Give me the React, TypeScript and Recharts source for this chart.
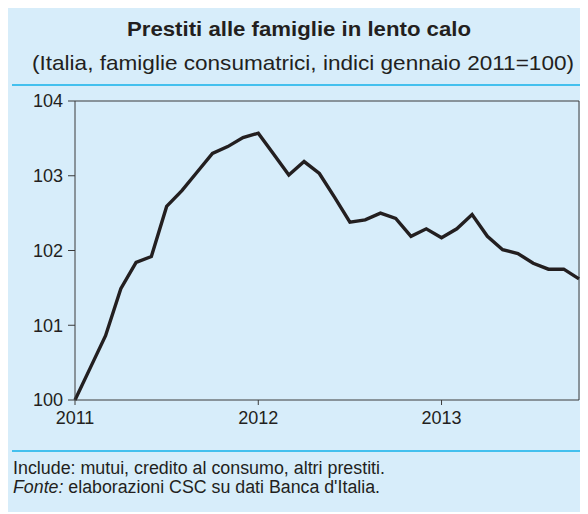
import { LineChart, Line, XAxis, YAxis, ReferenceLine } from 'recharts';

const months = [
  '2011-01', '2011-02', '2011-03', '2011-04', '2011-05', '2011-06',
  '2011-07', '2011-08', '2011-09', '2011-10', '2011-11', '2011-12',
  '2012-01', '2012-02', '2012-03', '2012-04', '2012-05', '2012-06',
  '2012-07', '2012-08', '2012-09', '2012-10', '2012-11', '2012-12',
  '2013-01', '2013-02', '2013-03', '2013-04', '2013-05', '2013-06',
  '2013-07', '2013-08', '2013-09', '2013-10',
];

const prestiti = [
  100.0, 100.43, 100.86, 101.49, 101.84, 101.92,
  102.59, 102.8, 103.05, 103.3, 103.39, 103.51,
  103.57, 103.29, 103.01, 103.19, 103.03, 102.71,
  102.38, 102.41, 102.5, 102.43, 102.19, 102.29,
  102.17, 102.29, 102.48, 102.19, 102.01, 101.96,
  101.83, 101.75, 101.75, 101.62,
];

const yTicks = [100, 101, 102, 103, 104];
const yearLabels = ['2011', '2012', '2013'];

const BG = '#d7edfa';
const CYAN = '#12b0ea';
const INK = '#231f20';
const FONT = "'Liberation Sans', Arial, sans-serif";

const data = months.map((m, i) => ({ i, m, v: prestiti[i] }));
const xTicks = yearLabels.map((y) => months.indexOf(y + '-01'));
const last = months.length - 1;

export default function App() {
  return (
    <div style={{ position: 'relative', width: 588, height: 514, margin: '-8px 0 0 -8px', background: '#fff' }}>
      <div style={{ position: 'absolute', left: 5, top: 0, width: 583, height: 512, background: BG }} />
      <svg width={588} height={514} style={{ position: 'absolute', left: 0, top: 0 }}>
        <line x1={12} x2={588} y1={4} y2={4} stroke={CYAN} strokeWidth={2} />
        <line x1={12} x2={588} y1={85} y2={85} stroke={CYAN} strokeWidth={1.5} />
        <line x1={12} x2={588} y1={451} y2={451} stroke={CYAN} strokeWidth={1.5} />
        <text
          x={299}
          y={36}
          textAnchor="middle"
          fontFamily={FONT}
          fontWeight="bold"
          fontSize={21}
          fill={INK}
          textLength={344}
          lengthAdjust="spacingAndGlyphs"
        >
          Prestiti alle famiglie in lento calo
        </text>
        <text
          x={303}
          y={70}
          textAnchor="middle"
          fontFamily={FONT}
          fontSize={21}
          fill={INK}
          textLength={542}
          lengthAdjust="spacingAndGlyphs"
        >
          (Italia, famiglie consumatrici, indici gennaio 2011=100)
        </text>
        <text
          x={13}
          y={474}
          fontFamily={FONT}
          fontSize={18}
          fill={INK}
          textLength={372}
          lengthAdjust="spacingAndGlyphs"
        >
          Include: mutui, credito al consumo, altri prestiti.
        </text>
        <text
          x={13}
          y={493}
          fontFamily={FONT}
          fontSize={18}
          fill={INK}
          textLength={367}
          lengthAdjust="spacingAndGlyphs"
        >
          <tspan fontStyle="italic">Fonte:</tspan> elaborazioni CSC su dati Banca d'Italia.
        </text>
      </svg>
      <div style={{ position: 'absolute', left: 0, top: 0 }}>
        <LineChart
          width={588}
          height={440}
          data={data}
          margin={{ top: 101, right: 9, bottom: 0, left: 0 }}
          style={{ fontFamily: FONT }}
        >
          <XAxis
            dataKey="i"
            type="number"
            domain={[0, last]}
            ticks={xTicks}
            tickFormatter={(v: number) => months[v].slice(0, 4)}
            stroke="#3a3a3a"
            tickSize={5}
            tickMargin={6}
            tick={{ fill: INK, fontSize: 18 }}
            height={40}
          />
          <YAxis
            domain={[100, 104]}
            ticks={yTicks}
            stroke="#3a3a3a"
            tickSize={7}
            tickMargin={5}
            width={75}
            tick={{ fill: INK, fontSize: 18 }}
          />
          <ReferenceLine y={104} stroke="#3a3a3a" />
          <ReferenceLine x={last} stroke="#3a3a3a" />
          <Line
            type="linear"
            dataKey="v"
            stroke={INK}
            strokeWidth={3.4}
            dot={false}
            isAnimationActive={false}
          />
        </LineChart>
      </div>
    </div>
  );
}
